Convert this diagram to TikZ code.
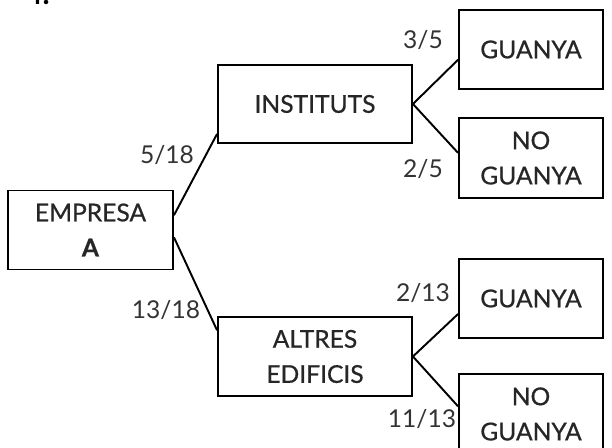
\documentclass[tikz,border=0pt]{standalone}
\usepackage{fontspec}
\setmainfont{Lato}
\newfontfamily\boxfont[FakeBold=0.7]{Lato}
\usepackage{tikz}
\usetikzlibrary{positioning}
\tikzset{
  % pixel grid of the figure
  >=latex,
  branch/.style={draw, line width=1.1pt}
}

\begin{document}
\begin{tikzpicture}[x=0.02cm, y=-0.02cm]
    % Define styles
    \tikzstyle{block} = [rectangle, draw, line width=1.1pt, inner sep=0pt, align=center, font=\boxfont\fontsize{14}{20}\selectfont, text=black!85]
    \tikzstyle{prob} = [inner sep=0pt, font=\fontsize{14}{17}\selectfont, text=black!80]
    \useasboundingbox (0,0) rectangle (612,448);

    % Number of the exercise
    \node [anchor=base west, inner sep=0pt, font=\fontsize{17}{20}\selectfont\bfseries] (num) at (25,5) {4.};

    % Place nodes
    \node [block, minimum width=3.3cm, minimum height=1.58cm] (empresa) at (90.5,230) {EMPRESA\\\textbf{A}};
    \node [block, minimum width=3.88cm, minimum height=1.56cm] (instituts) at (315,104) {INSTITUTS};
    \node [block, minimum width=3.88cm, minimum height=1.58cm] (altres) at (315,356.5) {ALTRES\\EDIFICIS};
    \node [block, minimum width=2.88cm, minimum height=1.58cm] (guanyaA) at (531,49.5) {GUANYA};
    \node [block, minimum width=2.88cm, minimum height=1.6cm] (noguanyaA) at (531,158) {NO\\GUANYA};
    \node [block, minimum width=2.88cm, minimum height=1.58cm] (guanyaB) at (531,298.5) {GUANYA};
    \node [block, minimum width=2.88cm, minimum height=1.6cm] (noguanyaB) at (531,414) {NO\\GUANYA};

    % Draw branches
    \path [branch] (empresa.10) -- (instituts.197);
    \path [branch] (empresa.-5) -- (altres.165);
    \path [branch] (instituts.east) -- (guanyaA.188);
    \path [branch] (instituts.east) -- (noguanyaA.176);
    \path [branch] (altres.east) -- (guanyaB.192);
    \path [branch] (altres.east) -- (noguanyaB.174);

    % Probabilities
    \node [prob] (p1) at (167,155) {5/18};
    \node [prob] (p2) at (166,310) {13/18};
    \node [prob] (p3) at (423,40) {3/5};
    \node [prob] (p4) at (423,169) {2/5};
    \node [prob] (p5) at (423,293) {2/13};
    \node [prob] (p6) at (422,419) {11/13};
\end{tikzpicture}
\end{document}
